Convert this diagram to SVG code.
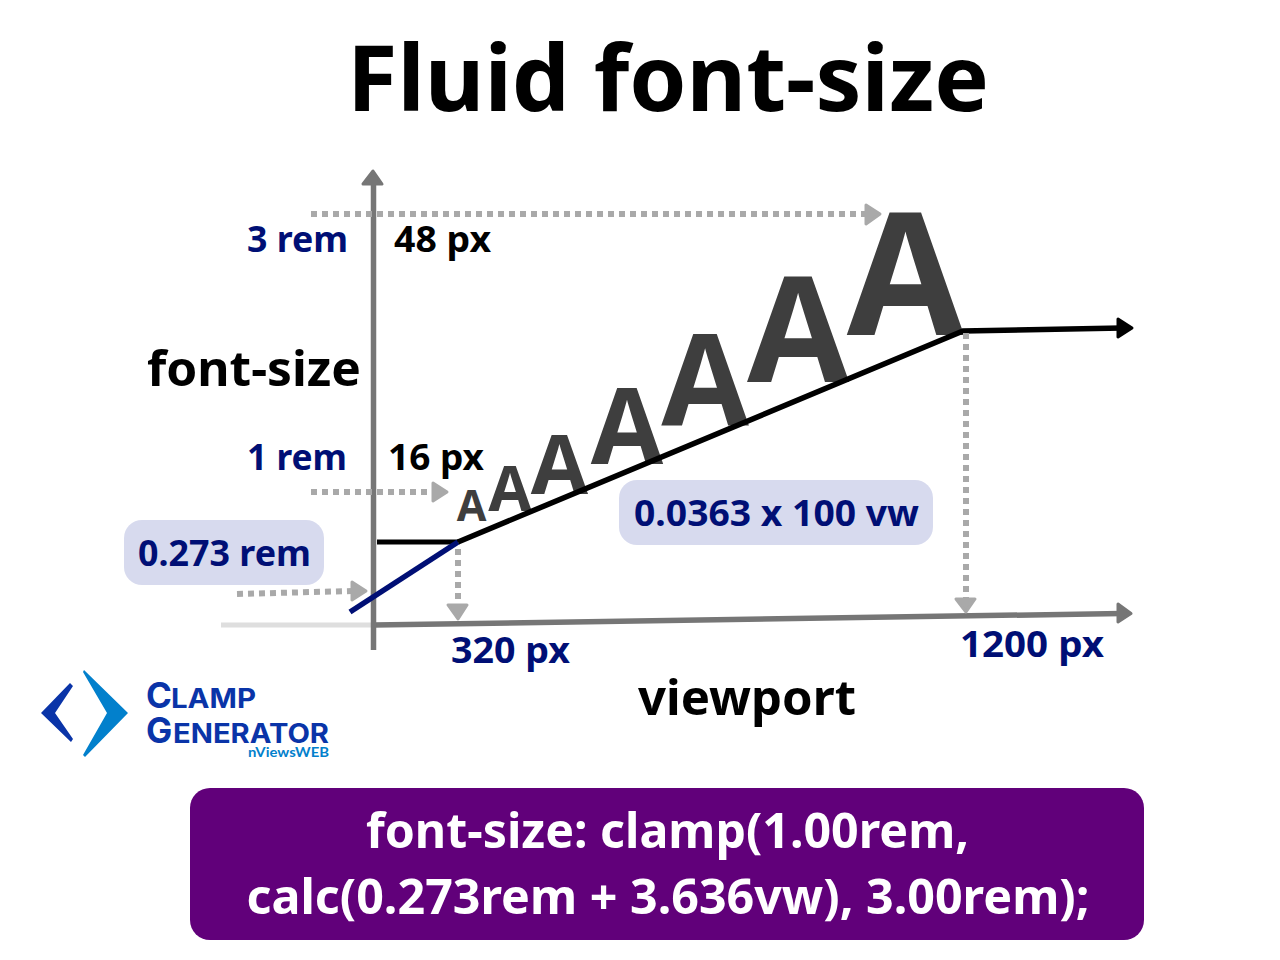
<svg xmlns="http://www.w3.org/2000/svg" width="1280" height="960" viewBox="0 0 1280 960">
<style>
.o{font-family:"Noto Sans","Open Sans",sans-serif;font-weight:700}
.b{fill:#000}
.n{fill:#000f75}
.a{fill:#3e3e3e;font-weight:700;font-family:"Open Sans",sans-serif;text-anchor:middle}
.lg{font-family:Inter,"Open Sans",sans-serif;font-weight:700;fill:#0a34a8}
.dot{fill:none;stroke:#a9a9a9;stroke-width:6;stroke-dasharray:6 5}
.ah{fill:#a9a9a9;stroke:#a9a9a9;stroke-width:3;stroke-linejoin:round}
</style>
<rect width="1280" height="960" fill="#fff"/>
<text id="title" class="o" x="347" y="111" font-size="91" fill="#000" textLength="642" lengthAdjust="spacingAndGlyphs">Fluid font-size</text>
<g id="sizes">
<text class="a" x="471.500" y="521" font-size="43">A</text>
<text class="a" x="510" y="511" font-size="63">A</text>
<text class="a" x="559.500" y="494" font-size="83">A</text>
<text class="a" x="627" y="464" font-size="105">A</text>
<text class="a" x="705" y="426" font-size="127">A</text>
<text class="a" x="798" y="382" font-size="148">A</text>
<text class="a" x="905.500" y="335" font-size="170">A</text>
</g>
<g id="connectors">
<path d="M221 625H372" stroke="#dedede" stroke-width="5" fill="none"/>
<path d="M374 625L1122 613.500" stroke="#767676" stroke-width="5.500" fill="none"/>
<path d="M1118 604L1131 613.500L1118 622Z" fill="#767676" stroke="#767676" stroke-width="3" stroke-linejoin="round"/>
<path d="M373.500 650V178" stroke="#767676" stroke-width="5.500" fill="none"/>
<path d="M363 184L373 171L382 184Z" fill="#767676" stroke="#767676" stroke-width="3" stroke-linejoin="round"/>
<path d="M377 542H458" stroke="#000" stroke-width="5" fill="none"/>
<path d="M350 612L458 542" stroke="#000f75" stroke-width="5.500" fill="none"/>
<path d="M458 542L963 331L1122 328" stroke="#000" stroke-width="5.500" fill="none"/>
<path d="M1118 319L1132 328L1118 337Z" fill="#000" stroke="#000" stroke-width="3" stroke-linejoin="round"/>
<path class="dot" d="M311 214H866"/>
<path class="ah" d="M866 205L880 214L866 224Z"/>
<path class="dot" d="M311 492H432"/>
<path class="ah" d="M433 483L447 492L433 501Z"/>
<path class="dot" d="M237 594L352 591"/>
<path class="ah" d="M352 582L366 591L352 600Z"/>
<path class="dot" d="M458 549V604"/>
<path class="ah" d="M448 605H467L458 619Z"/>
<path class="dot" d="M966 333V598"/>
<path class="ah" d="M956 599H975L966 612Z"/>
</g>
<g id="label-3rem"><text class="o n" x="247" y="252" font-size="35" textLength="101" lengthAdjust="spacingAndGlyphs">3 rem</text></g>
<g id="label-48px"><text class="o b" x="394" y="252" font-size="35" textLength="97" lengthAdjust="spacingAndGlyphs">48 px</text></g>
<g id="label-axis-y"><text class="o b" x="147" y="386" font-size="48" textLength="214" lengthAdjust="spacingAndGlyphs">font-size</text></g>
<g id="label-1rem"><text class="o n" x="247" y="470" font-size="35" textLength="100" lengthAdjust="spacingAndGlyphs">1 rem</text></g>
<g id="label-16px"><text class="o b" x="388" y="470" font-size="35" textLength="96" lengthAdjust="spacingAndGlyphs">16 px</text></g>
<g id="label-slope">
<rect x="619" y="480" width="314" height="65" rx="18" fill="#d7daee"/>
<text class="o n" x="634" y="526" font-size="35" textLength="285" lengthAdjust="spacingAndGlyphs">0.0363 x 100 vw</text>
</g>
<g id="label-intercept">
<rect x="124" y="520" width="200" height="65" rx="18" fill="#d7daee"/>
<text class="o n" x="138" y="566" font-size="35" textLength="173" lengthAdjust="spacingAndGlyphs">0.273 rem</text>
</g>
<g id="label-320"><text class="o n" x="451" y="663" font-size="35" textLength="119" lengthAdjust="spacingAndGlyphs">320 px</text></g>
<g id="label-1200"><text class="o n" x="960" y="657" font-size="35" textLength="144" lengthAdjust="spacingAndGlyphs">1200 px</text></g>
<g id="label-axis-x"><text class="o b" x="638" y="715" font-size="48" textLength="218" lengthAdjust="spacingAndGlyphs">viewport</text></g>
<g id="logo">
<path d="M70 683L73 686L55 713L73 739L71 742L41 713Z" fill="#0a34a8"/>
<path d="M84 670L128 713L85 757L83 755L107 713L83 672Z" fill="#0280cc"/>
<text class="lg" x="146" y="708" font-size="35">C</text>
<text class="lg" x="171" y="708" font-size="27" textLength="85" lengthAdjust="spacingAndGlyphs">LAMP</text>
<text class="lg" x="146" y="743" font-size="35">G</text>
<text class="lg" x="173" y="743" font-size="27" textLength="156" lengthAdjust="spacingAndGlyphs">ENERATOR</text>
<text x="248" y="757" font-family="Lato,sans-serif" font-size="14" font-weight="700" fill="#0280cc" textLength="81" lengthAdjust="spacingAndGlyphs">nViewsWEB</text>
</g>
<g id="formula">
<rect x="190" y="788" width="954" height="152" rx="20" fill="#61007a"/>
<text class="o" x="366" y="848" font-size="48" fill="#fff" textLength="603" lengthAdjust="spacingAndGlyphs">font-size: clamp(1.00rem,</text>
<text class="o" x="246.500" y="914" font-size="48" fill="#fff" textLength="843" lengthAdjust="spacingAndGlyphs">calc(0.273rem + 3.636vw), 3.00rem);</text>
</g>
</svg>
